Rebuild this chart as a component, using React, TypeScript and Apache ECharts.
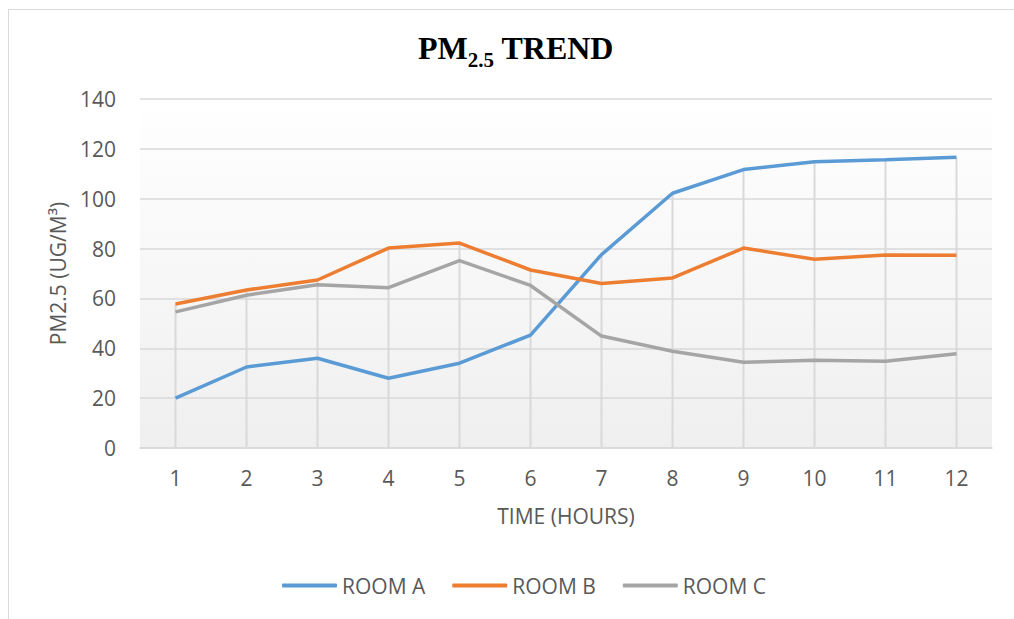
import React, { useEffect, useRef } from "react";
import * as echarts from "echarts";

const hours = ["1", "2", "3", "4", "5", "6", "7", "8", "9", "10", "11", "12"];
const roomA = [20, 32.5, 36, 28, 34, 45.3, 77.6, 102.2, 111.7, 114.8, 115.6, 116.6];
const roomB = [57.8, 63.4, 67.4, 80.2, 82.2, 71.4, 66, 68.2, 80.2, 75.7, 77.4, 77.3];
const roomC = [54.6, 61.3, 65.5, 64.3, 75.2, 65.2, 44.9, 38.8, 34.4, 35.2, 34.8, 37.8];
const yTicks = { min: 0, max: 140, interval: 20 };

const dropLines = hours.map((_, i) => Math.max(roomA[i], roomB[i], roomC[i]));

export default function App() {
  const ref = useRef<HTMLDivElement>(null);
  useEffect(() => {
    const chart = echarts.init(ref.current!, null, { renderer: "svg" });
    const font = "'Open Sans', sans-serif";
    const txt = "#595959";
    chart.setOption({
      animation: false,
      backgroundColor: "#ffffff",
      title: {
        left: 413,
        top: 27,
        text: "{a|PM}{b|2.5}{a| TREND}",
        textStyle: {
          rich: {
            a: { fontFamily: "'Liberation Serif', serif", fontWeight: "bold", fontSize: 32, lineHeight: 38, verticalAlign: "top", color: "#000" },
            b: { fontFamily: "'Liberation Serif', serif", fontWeight: "bold", fontSize: 21, lineHeight: 18, verticalAlign: "bottom", color: "#000" },
          },
        },
      },
      graphic: [
        { type: "rect", shape: { x: 8.5, y: 9.5, width: 1030, height: 640 }, style: { fill: "none", stroke: "#d9d9d9", lineWidth: 1 }, z: -1 },
      ],
      grid: {
        left: 140,
        right: 22,
        top: 99,
        bottom: 171,
        show: true,
        borderWidth: 0,
        backgroundColor: new echarts.graphic.LinearGradient(0, 0, 0, 1, [
          { offset: 0, color: "#ffffff" },
          { offset: 1, color: "#efefef" },
        ]),
      },
      legend: {
        left: 277,
        top: 570,
        data: ["ROOM A", "ROOM B", "ROOM C"],
        icon: "roundRect",
        itemWidth: 55,
        itemHeight: 4,
        itemGap: 27,
        textStyle: { fontFamily: font, fontSize: 21, color: txt, padding: [0, 0, 0, 0] },
      },
      xAxis: {
        type: "category",
        data: hours,
        boundaryGap: true,
        name: "TIME (HOURS)",
        nameLocation: "middle",
        nameGap: 57,
        nameTextStyle: { fontFamily: font, fontSize: 21, color: txt },
        axisLine: { lineStyle: { color: "#d9d9d9", width: 1.5 } },
        axisTick: { show: false },
        axisLabel: { fontFamily: font, fontSize: 21, color: txt, margin: 19 },
        splitLine: { show: false },
      },
      yAxis: {
        type: "value",
        min: yTicks.min,
        max: yTicks.max,
        interval: yTicks.interval,
        name: "PM2.5 (UG/M³)",
        nameLocation: "middle",
        nameGap: 72,
        nameRotate: 90,
        nameTextStyle: { fontFamily: font, fontSize: 21, color: txt },
        axisLine: { show: false },
        axisTick: { show: false },
        axisLabel: { fontFamily: font, fontSize: 21, color: txt, margin: 24 },
        splitLine: { lineStyle: { color: "#d9d9d9", width: 1.5 } },
      },
      series: [
        {
          name: "drop",
          type: "bar",
          data: dropLines,
          barWidth: 2,
          silent: true,
          itemStyle: { color: "#d9d9d9" },
          z: 1,
        },
        { name: "ROOM A", type: "line", data: roomA, symbol: "none", lineStyle: { color: "#5B9BD5", width: 3.5 }, itemStyle: { color: "#5B9BD5" }, z: 3 },
        { name: "ROOM B", type: "line", data: roomB, symbol: "none", lineStyle: { color: "#ED7D31", width: 3.5 }, itemStyle: { color: "#ED7D31" }, z: 3 },
        { name: "ROOM C", type: "line", data: roomC, symbol: "none", lineStyle: { color: "#A5A5A5", width: 3.5 }, itemStyle: { color: "#A5A5A5" }, z: 3 },
      ],
    });
    return () => chart.dispose();
  }, []);
  return <div ref={ref} style={{ position: "fixed", left: 0, top: 0, width: 1014, height: 619 }} />;
}
